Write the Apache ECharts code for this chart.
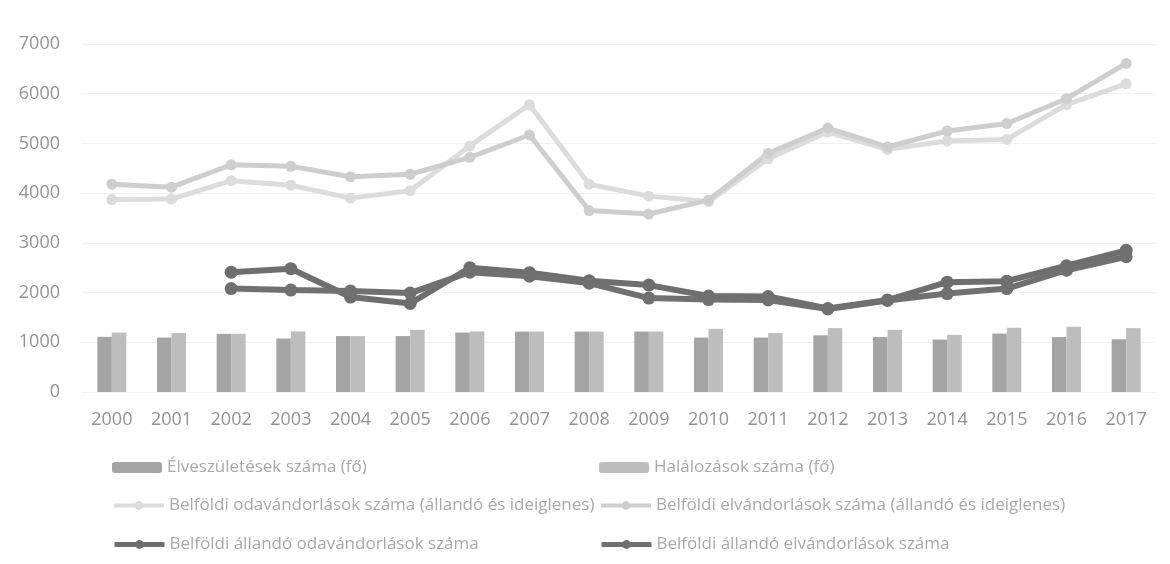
<!DOCTYPE html>
<html>
<head>
<meta charset="utf-8">
<script src="https://cdn.jsdelivr.net/npm/echarts@6/dist/echarts.min.js"></script>
<style>html,body{margin:0;padding:0;background:#fff}#c{width:1170px;height:564px}</style>
</head>
<body>
<div id="c"></div>
<script>
var years = ['2000','2001','2002','2003','2004','2005','2006','2007','2008','2009','2010','2011','2012','2013','2014','2015','2016','2017'];
var yTicks = [0,1000,2000,3000,4000,5000,6000,7000];

var nameBirths = 'Élveszületések száma (fő)';
var nameDeaths = 'Halálozások száma (fő)';
var nameInAll = 'Belföldi odavándorlások száma (állandó és ideiglenes)';
var nameOutAll = 'Belföldi elvándorlások száma (állandó és ideiglenes)';
var nameInPerm = 'Belföldi állandó odavándorlások száma';
var nameOutPerm = 'Belföldi állandó elvándorlások száma';

var births = [1110,1095,1170,1075,1125,1125,1195,1215,1215,1215,1095,1095,1140,1105,1055,1175,1105,1060];
var deaths = [1195,1185,1170,1220,1125,1250,1220,1215,1215,1215,1270,1185,1285,1250,1150,1290,1315,1285];
var inAll  = [3870,3880,4250,4160,3900,4050,4950,5780,4180,3940,3830,4690,5230,4880,5050,5080,5780,6200];
var outAll = [4180,4120,4570,4540,4330,4380,4720,5170,3650,3580,3860,4800,5310,4930,5250,5400,5900,6610];
var inPerm  = [null,null,2410,2480,1910,1780,2500,2400,2240,2150,1930,1920,1680,1850,2210,2230,2540,2850];
var outPerm = [null,null,2080,2050,2030,1990,2410,2330,2190,1890,1860,1850,1670,1840,1980,2080,2450,2720];

var txt = '#929292';
var legTxt = '#a8a8a8';
var font = 'Open Sans';

function lineSeries(name, data, color, width, size) {
  return {
    name: name, type: 'line', data: data, connectNulls: false,
    symbol: 'circle', symbolSize: size,
    lineStyle: {color: color, width: width},
    itemStyle: {color: color},
    z: 3
  };
}

function leg(name, left, top, lw) {
  var o = {
    data: [name], left: left, top: top, itemWidth: 50, itemHeight: 11, padding: 0, itemGap: 4,
    textStyle: {color: legTxt, fontFamily: font, fontSize: 17}
  };
  if (lw) { o.lineStyle = {width: lw}; }
  return o;
}

var chart = echarts.init(document.getElementById('c'), null, {renderer: 'canvas'});
chart.setOption({
  animation: false,
  backgroundColor: '#ffffff',
  grid: {left: 82, right: 14, top: 44, bottom: 172, containLabel: false},
  legend: [
    leg(nameBirths, 112, 459),
    leg(nameDeaths, 599, 459),
    leg(nameInAll, 112, 497, 4),
    leg(nameOutAll, 599, 497, 4),
    leg(nameInPerm, 112, 536, 5),
    leg(nameOutPerm, 599, 536, 5)
  ],
  xAxis: {
    type: 'category', data: years, boundaryGap: true,
    axisLine: {show: false}, axisTick: {show: false},
    axisLabel: {color: txt, fontFamily: font, fontSize: 18, margin: 19}
  },
  yAxis: {
    type: 'value', min: 0, max: 7000, interval: 1000,
    axisLine: {show: false}, axisTick: {show: false},
    splitLine: {lineStyle: {color: '#f1f1f1', width: 1}},
    axisLabel: {color: txt, fontFamily: font, fontSize: 18, margin: 22,
      formatter: function (v) { return yTicks.indexOf(v) >= 0 ? String(v) : ''; }}
  },
  series: [
    {name: nameBirths, type: 'bar', data: births, barWidth: 14.5, barGap: '0%',
     itemStyle: {color: '#a4a4a4'}},
    {name: nameDeaths, type: 'bar', data: deaths, barWidth: 14.5, barGap: '0%',
     itemStyle: {color: '#bdbdbd'}},
    lineSeries(nameInAll, inAll, '#dcdcdc', 5, 11),
    lineSeries(nameOutAll, outAll, '#cecece', 5, 11),
    lineSeries(nameInPerm, inPerm, '#6e6e6e', 6, 13),
    lineSeries(nameOutPerm, outPerm, '#707070', 6, 13)
  ]
});
</script>
</body>
</html>
